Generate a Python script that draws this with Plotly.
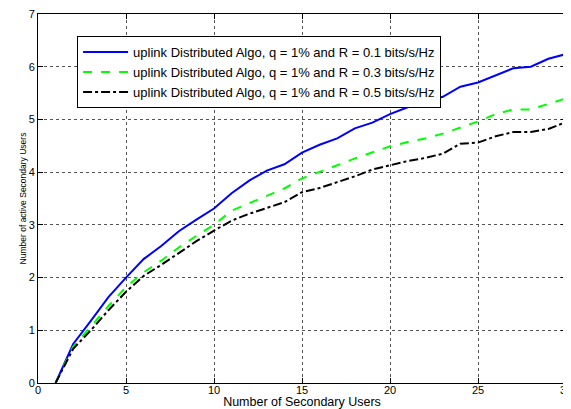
import plotly.graph_objects as go

x = list(range(1, 31))
blue = [0, 0.74, 1.18, 1.63, 2.0, 2.35, 2.6, 2.88, 3.1, 3.31, 3.6, 3.84, 4.03, 4.15, 4.37,
        4.52, 4.64, 4.83, 4.94, 5.1, 5.23, 5.34, 5.43, 5.62, 5.7, 5.84, 5.97, 6.0, 6.15, 6.24]
green = [0, 0.69, 1.07, 1.46, 1.82, 2.1, 2.32, 2.57, 2.79, 3.0, 3.27, 3.41, 3.56, 3.69, 3.88,
         4.0, 4.13, 4.26, 4.38, 4.49, 4.57, 4.64, 4.73, 4.85, 4.96, 5.1, 5.19, 5.19, 5.29, 5.4]
black = [0, 0.65, 1.0, 1.38, 1.73, 2.03, 2.24, 2.46, 2.69, 2.89, 3.08, 3.21, 3.32, 3.43, 3.62,
         3.7, 3.81, 3.92, 4.05, 4.13, 4.21, 4.27, 4.35, 4.54, 4.56, 4.68, 4.76, 4.76, 4.82, 4.95]
names = ["uplink Distributed Algo, q = 1% and R = 0.1 bits/s/Hz",
         "uplink Distributed Algo, q = 1% and R = 0.3 bits/s/Hz",
         "uplink Distributed Algo, q = 1% and R = 0.5 bits/s/Hz"]

fig = go.Figure()
fig.add_trace(go.Scatter(x=x, y=blue, mode="lines", name=names[0],
                         line=dict(color="#0000ff", width=2)))
fig.add_trace(go.Scatter(x=x, y=green, mode="lines", name=names[1],
                         line=dict(color="#00ff00", width=2, dash="dash")))
fig.add_trace(go.Scatter(x=x, y=black, mode="lines", name=names[2],
                         line=dict(color="#000000", width=2, dash="dashdot")))

axis_common = dict(showline=True, linecolor="black", linewidth=1, mirror="ticks",
                   ticks="inside", ticklen=5, tickcolor="black",
                   showgrid=True, gridcolor="#555555", gridwidth=1, griddash="dot",
                   zeroline=False, tickfont=dict(size=11, color="black"),
                   automargin=False, ticklabeloverflow="allow")

fig.update_layout(
    width=563, height=401,
    margin=dict(l=30, r=5, t=6, b=26),
    paper_bgcolor="white", plot_bgcolor="white",
    font=dict(family="Liberation Sans, Arial, sans-serif", color="black"),
    showlegend=True,
    legend=dict(x=0.074, y=0.94, xanchor="left", yanchor="top",
                bordercolor="black", borderwidth=1, bgcolor="white",
                font=dict(size=13), tracegroupgap=0, itemwidth=45),
    xaxis=dict(range=[0, 30], tickvals=[0, 5, 10, 15, 20, 25, 30],
               ticklabelstandoff=-3,
               title=dict(text="Number of Secondary Users", font=dict(size=12.5), standoff=0),
               **axis_common),
    yaxis=dict(range=[0, 7], tickvals=[0, 1, 2, 3, 4, 5, 6, 7],
               title=dict(text="Number of active Secondary Users", font=dict(size=8.5), standoff=0),
               **axis_common),
)

fig.write_html("out.html")
